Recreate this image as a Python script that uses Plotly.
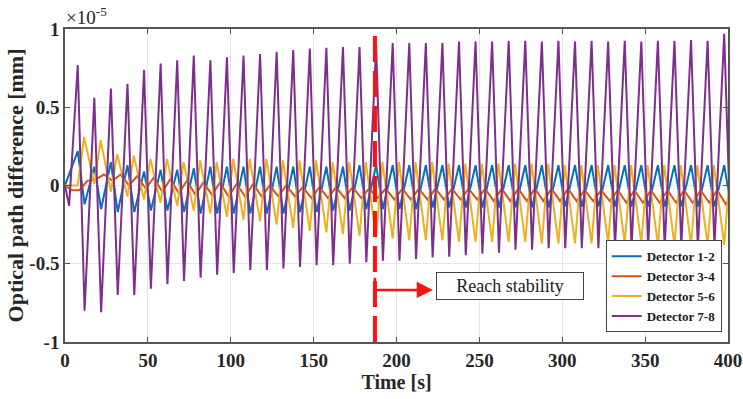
import plotly.graph_objects as go

# ---------------- data (values in units of 1e-5 mm) ----------------
# cycle grid: one oscillation every 10 s
n_cycles = 40
cycle_idx = list(range(n_cycles))

# Detector 7-8 (purple): peaks / troughs per cycle
purple_start_t = [0.0, 2.5]
purple_start_v = [0.0, -0.13]
purple_peaks = [0.77, 0.56, 0.62, 0.65, 0.74, 0.78, 0.80, 0.83, 0.80, 0.82,
                0.83, 0.84, 0.855, 0.865, 0.875, 0.88, 0.885, 0.885, 0.89, 0.91,
                0.91, 0.91, 0.91, 0.92, 0.92, 0.92, 0.923, 0.925, 0.92, 0.925,
                0.92, 0.925, 0.92, 0.925, 0.92, 0.925, 0.925, 0.93, 0.925, 0.97]
purple_troughs = [-0.80, -0.81, -0.70, -0.70, -0.66, -0.63, -0.61, -0.59, -0.57, -0.56,
                  -0.54, -0.54, -0.53, -0.52, -0.51, -0.51, -0.50, -0.49, -0.48, -0.48,
                  -0.47, -0.46, -0.455, -0.445, -0.435, -0.43, -0.41, -0.41, -0.40, -0.40,
                  -0.40, -0.40, -0.40, -0.40, -0.39, -0.40, -0.39, -0.40, -0.39, -0.39]

# Detector 1-2 (blue)
blue_peaks = [0.22, 0.12, 0.15, 0.13, 0.09, 0.10, 0.10, 0.11, 0.12, 0.12,
              0.12, 0.12, 0.12, 0.12, 0.12, 0.12, 0.12, 0.13, 0.13, 0.13,
              0.13, 0.13, 0.13, 0.13, 0.13, 0.13, 0.13, 0.13, 0.13, 0.13,
              0.13, 0.13, 0.13, 0.13, 0.13, 0.13, 0.13, 0.13, 0.13, 0.13]
blue_troughs = [-0.12, -0.15, -0.17, -0.17, -0.16, -0.16, -0.17, -0.18, -0.18, -0.18,
                -0.18, -0.18, -0.18, -0.17, -0.17, -0.16, -0.16, -0.15, -0.15, -0.15,
                -0.15, -0.14, -0.14, -0.14, -0.14, -0.14, -0.14, -0.14, -0.14, -0.135,
                -0.135, -0.135, -0.135, -0.135, -0.135, -0.135, -0.135, -0.135, -0.135, -0.135]

# Detector 5-6 (yellow)
yellow_peaks = [0.31, 0.29, 0.20, 0.19, 0.17, 0.17, 0.15, 0.16, 0.15, 0.17,
                0.17, 0.17, 0.16, 0.16, 0.16, 0.15, 0.15, 0.15, 0.15, 0.15,
                0.15, 0.15, 0.14, 0.14, 0.14, 0.14, 0.14, 0.14, 0.14, 0.13,
                0.13, 0.13, 0.13, 0.13, 0.13, 0.13, 0.13, 0.13, 0.13, 0.13]
yellow_troughs = [0.01, -0.04, -0.07, -0.09, -0.11, -0.13, -0.16, -0.18, -0.20, -0.22,
                  -0.23, -0.25, -0.27, -0.29, -0.30, -0.31, -0.32, -0.33, -0.34, -0.35,
                  -0.35, -0.35, -0.36, -0.36, -0.36, -0.36, -0.36, -0.37, -0.37, -0.37,
                  -0.37, -0.37, -0.37, -0.37, -0.38, -0.38, -0.38, -0.38, -0.38, -0.38]

# Detector 3-4 (orange)
orange_peaks = [0.03, 0.07, 0.07, 0.06, 0.05, 0.04, 0.03, 0.02, 0.02, 0.01,
                0.01, 0.00, 0.00, -0.01, -0.01, -0.01, -0.01, -0.02, -0.02, -0.02,
                -0.02, -0.02, -0.02, -0.02, -0.02, -0.02, -0.02, -0.02, -0.02, -0.02,
                -0.03, -0.03, -0.03, -0.03, -0.03, -0.03, -0.03, -0.03, -0.03, -0.03]
orange_troughs = [-0.03, 0.04, 0.03, 0.00, -0.02, -0.04, -0.05, -0.06, -0.06, -0.07,
                  -0.07, -0.07, -0.07, -0.07, -0.08, -0.08, -0.08, -0.08, -0.08, -0.09,
                  -0.09, -0.09, -0.09, -0.09, -0.09, -0.10, -0.10, -0.10, -0.10, -0.10,
                  -0.10, -0.10, -0.10, -0.11, -0.11, -0.11, -0.11, -0.11, -0.11, -0.12]

x_ticks = [0, 50, 100, 150, 200, 250, 300, 350, 400]
y_ticks = [-1, -0.5, 0, 0.5, 1]
y_ticktext = ["-1", "-0.5", "0", "0.5", "1"]
stability_t = 187
names = ["Detector 1-2", "Detector 3-4", "Detector 5-6", "Detector 7-8"]
colors = ["#0072BD", "#D95319", "#EDB120", "#7E2F8E"]


def build(start_t, start_v, first_t, first_v, second_t, second_v):
    xs, ys = list(start_t), list(start_v)
    for k in cycle_idx:
        xs += [first_t + 10 * k, second_t + 10 * k]
        ys += [first_v[k], second_v[k]]
    return xs, ys


series = [
    build([0.0], [0.0], 7.7, blue_peaks, 11.8, blue_troughs),
    build([0.0, 4.0], [0.0, -0.03], 8.7, orange_troughs, 13.5, orange_peaks),
    build([0.0, 7.7], [0.0, 0.0], 11.5, yellow_peaks, 17.7, yellow_troughs),
    build(purple_start_t, purple_start_v, 7.7, purple_peaks, 11.8, purple_troughs),
]

FONT = "Liberation Serif"
TXT = "#262626"
fig = go.Figure()
for (xs, ys), name, c in zip(series, names, colors):
    fig.add_trace(go.Scatter(x=xs, y=ys, mode="lines", name=name,
                             line=dict(color=c, width=2)))

# red dashed line
fig.add_shape(type="line", x0=stability_t, x1=stability_t, y0=-1.0, y1=0.96,
              xref="x", yref="y", line=dict(color="#FF1010", width=4, dash="26px,9px"))
# start bar of arrow
fig.add_shape(type="line", x0=stability_t, x1=stability_t, y0=-0.745, y1=-0.59,
              xref="x", yref="y", line=dict(color="#FF1010", width=2.5))
fig.add_annotation(x=222, y=-0.667, ax=stability_t, ay=-0.667, xref="x", yref="y",
                   axref="x", ayref="y", text="", showarrow=True, arrowhead=2,
                   arrowsize=1.3, arrowwidth=2.5, arrowcolor="#FF1010")
fig.add_annotation(x=268.5, y=-0.64, xref="x", yref="y", text="Reach stability",
                   showarrow=False, font=dict(family=FONT, size=18, color="#1a1a1a"),
                   bgcolor="white", bordercolor="#444444", borderwidth=1,
                   width=142, height=22, borderpad=2)
fig.add_annotation(x=0, y=1, xref="paper", yref="paper", xanchor="left", yanchor="bottom",
                   text="×10<sup>-5</sup>", showarrow=False, yshift=-1, xshift=-1,
                   font=dict(family=FONT, size=19, color=TXT))

axis_common = dict(showgrid=True, gridcolor="#E6E6E6", gridwidth=1, zeroline=False,
                   showline=True, linecolor="#555555", linewidth=1.5, mirror="allticks",
                   ticks="inside", ticklen=5, tickcolor="#555555", tickwidth=1,
                   automargin=False,
                   tickfont=dict(family=FONT, size=19, color=TXT, weight="bold"))

fig.update_layout(
    width=743, height=399,
    margin=dict(l=65, r=15, t=29, b=57),
    paper_bgcolor="white", plot_bgcolor="white",
    xaxis=dict(range=[0, 400], tickvals=x_ticks,
               title=dict(text="Time [s]", standoff=3,
                          font=dict(family=FONT, size=20, color=TXT, weight="bold")),
               **axis_common),
    yaxis=dict(range=[-1, 1], tickvals=y_ticks, ticktext=y_ticktext,
               title=dict(text="Optical path difference [mm]", standoff=0,
                          font=dict(family=FONT, size=22, color=TXT, weight="bold")),
               **axis_common),
    legend=dict(x=0.9905, y=0.031, xanchor="right", yanchor="bottom",
                bgcolor="white", bordercolor="#444444", borderwidth=1,
                font=dict(family=FONT, size=13, color="#1a1a1a", weight="bold"),
                tracegroupgap=0, itemwidth=30),
    showlegend=True,
)

fig.write_html("out.html", config={"displayModeBar": False},
               post_script="document.body.style.margin='0';document.body.style.padding='0';")
